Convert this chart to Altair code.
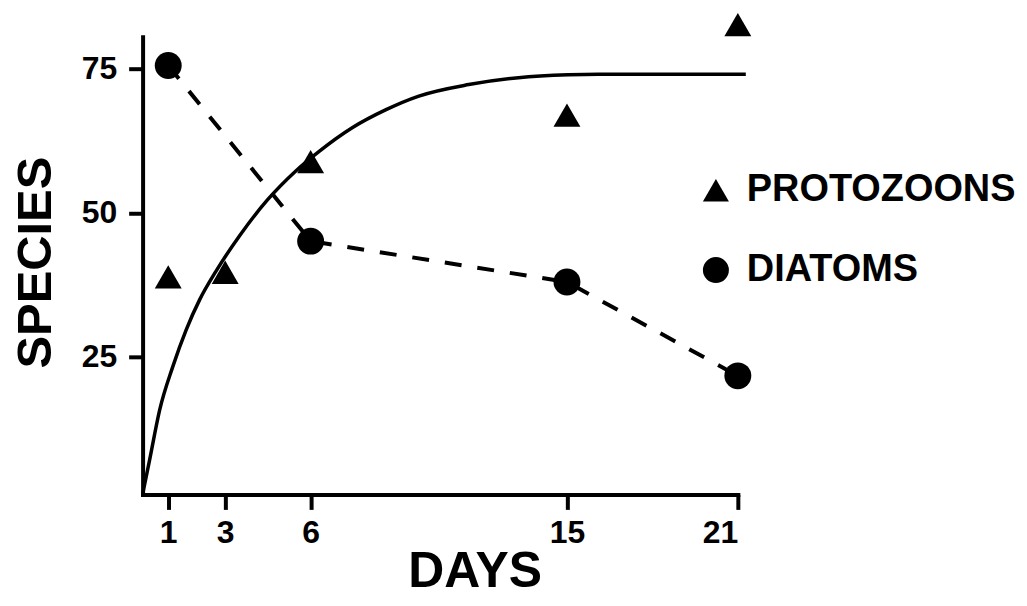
import altair as alt
import pandas as pd

# ---- data ----
curve_days = [0.1, 0.35, 0.70, 1.16, 1.63, 2.10, 2.68, 3.50, 4.49, 5.48, 6.30,
              7.46, 8.63, 9.80, 11.55, 13.30, 15.05, 16.10, 21.28]
curve_species = [1.1, 7.2, 15.8, 23.3, 29.7, 34.9, 39.9, 46.0, 52.3, 57.3, 60.7,
                 64.8, 67.9, 70.3, 72.3, 73.5, 74.0, 74.1, 74.1]

diatom_days = [1, 6, 15, 21]
diatom_species = [75.6, 45.1, 38.0, 21.7]

proto_days = [1, 3, 6, 15, 21]
proto_species = [38.9, 39.7, 58.9, 67.0, 82.7]

series_names = ["PROTOZOONS", "DIATOMS"]
series_shapes = ["triangle-up", "circle"]

x_ticks = [1, 3, 6, 15, 21]
y_ticks = [25, 50, 75]

FONT = "Liberation Sans"

curve_df = pd.DataFrame({"day": curve_days, "species": curve_species})
diatom_df = pd.DataFrame({"day": diatom_days, "species": diatom_species,
                          "series": [series_names[1]] * len(diatom_days)})
proto_df = pd.DataFrame({"day": proto_days, "species": proto_species,
                         "series": [series_names[0]] * len(proto_days)})
points_df = pd.concat([proto_df, diatom_df], ignore_index=True)

x_enc = alt.X(
    "day:Q",
    scale=alt.Scale(domain=[0.1, 21], nice=False, zero=False),
    axis=alt.Axis(
        values=x_ticks, title="DAYS", grid=False,
        tickSize=15, tickWidth=4, domainWidth=4,
        labelPadding=8, labelFontSize=32,
        titleX=333, titleY=92, titleAlign="center", titleBaseline="alphabetic",
        titleFontSize=50,
    ),
)
y_enc = alt.Y(
    "species:Q",
    scale=alt.Scale(domain=[1.1, 80.6], nice=False, zero=False),
    axis=alt.Axis(
        values=y_ticks, title="SPECIES", grid=False,
        tickSize=14, tickWidth=4, domainWidth=4,
        labelPadding=12, labelFontSize=32,
        titleAngle=270, titleX=-92, titleY=226, titleAlign="center",
        titleBaseline="alphabetic", titleFontSize=49,
    ),
)

curve = alt.Chart(curve_df).mark_line(
    color="black", strokeWidth=3.5, interpolate="monotone"
).encode(x=x_enc, y=y_enc)

dashed = alt.Chart(diatom_df).mark_line(
    color="black", strokeWidth=4, strokeDash=[17, 16]
).encode(x=x_enc, y=y_enc)

points = alt.Chart(points_df).mark_point(
    filled=True, color="black", opacity=1, size=729
).encode(
    x=x_enc,
    y=y_enc,
    shape=alt.Shape(
        "series:N",
        scale=alt.Scale(domain=series_names, range=series_shapes),
        legend=alt.Legend(
            title=None, orient="none", legendX=556, legendY=135,
            labelFont=FONT, labelFontSize=38, labelFontWeight="bold",
            labelColor="black", labelOffset=12, rowPadding=42,
            labelLimit=0,
            symbolSize=680, symbolFillColor="black", symbolStrokeWidth=0,
            symbolOpacity=1, padding=0,
        ),
    ),
)

chart = (
    alt.layer(curve, dashed, points)
    .properties(
        width=597, height=459,
        autosize=alt.AutoSizeParams(type="none"),
        padding={"left": 135, "top": 28, "right": 282, "bottom": 103},
        background="white",
    )
    .configure_view(strokeWidth=0)
    .configure_axis(
        domainColor="black", tickColor="black",
        labelFont=FONT, labelFontWeight="bold", labelColor="black",
        titleFont=FONT, titleFontWeight="bold", titleColor="black",
        domainCap="square",
    )
)

chart.save("out.html", embed_options={"renderer": "svg", "actions": False})
